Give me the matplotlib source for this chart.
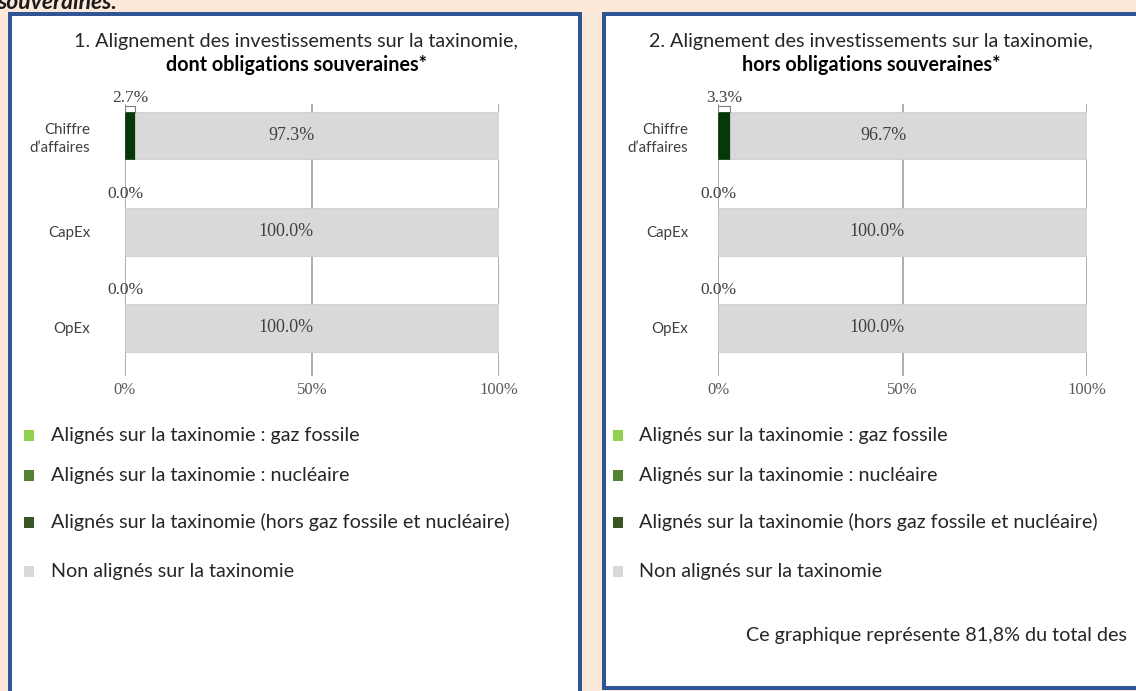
import matplotlib
matplotlib.use("Agg")
import matplotlib.pyplot as plt
from matplotlib.patches import Rectangle

# taxonomy alignment, in % of investments
categories = ["Chiffre\nd\u2019affaires", "CapEx", "OpEx"]
gaz_fossile_1 = [0.0, 0.0, 0.0]
nucleaire_1 = [0.0, 0.0, 0.0]
aligne_1 = [2.7, 0.0, 0.0]
non_aligne_1 = [97.3, 100.0, 100.0]

gaz_fossile_2 = [0.0, 0.0, 0.0]
nucleaire_2 = [0.0, 0.0, 0.0]
aligne_2 = [3.3, 0.0, 0.0]
non_aligne_2 = [96.7, 100.0, 100.0]

xticks = [0, 50, 100]
xtick_labels = ["0%", "50%", "100%"]

legend_labels = [
    "Alignés sur la taxinomie : gaz fossile",
    "Alignés sur la taxinomie : nucléaire",
    "Alignés sur la taxinomie (hors gaz fossile et nucléaire)",
    "Non alignés sur la taxinomie",
]
legend_colors = ["#92D050", "#548235", "#375623", "#D9D9D9"]

W, H = 1136, 691
BG = "#FDE9D9"
BORDER = "#2F5597"
TXT = "#262626"
SANS = "Lato"
SERIF = "Liberation Serif"

fig = plt.figure(figsize=(W / 100, H / 100), dpi=100, facecolor=BG)


def fx(x):
    return x / W


def fy(y):
    return 1 - y / H


def panel(x0, y0, x1, y1):
    fig.patches.append(Rectangle((fx(x0), fy(y1)), fx(x1 - x0), (y1 - y0) / H,
                                 transform=fig.transFigure, facecolor="white",
                                 edgecolor=BORDER, linewidth=2.9, zorder=-5))


panel(10, 14, 580, 720)
panel(604, 14, 1145, 688)

# cut-off heading above the panels
fig.text(fx(-3), fy(9), "souveraines.", fontsize=16.5, fontweight="bold",
         fontstyle="italic", family=SANS, color="#1a1a1a", va="baseline")


def chart(x0, x1, gaz, nuc, ali, non, ylab_pad):
    top, bottom = 104, 376
    ax = fig.add_axes([fx(x0), fy(bottom), fx(x1 - x0), (bottom - top) / H])
    ax.set_zorder(2)
    ax.set_facecolor("none")
    ax.set_xlim(0, 100)
    ax.set_ylim(2.5, -0.333)
    ypos = list(range(len(categories)))
    h = 0.49
    left = [0.0] * len(categories)
    for vals, col in [(ali, "#073807"), (gaz, "#92D050"), (nuc, "#548235"),
                      (non, "#D9D9D9")]:
        ax.barh(ypos, vals, left=left, height=h, color=col,
                edgecolor="#cfcfcf" if col == "#D9D9D9" else "#1f3f1f",
                linewidth=0.6, zorder=2)
        left = [l + v for l, v in zip(left, vals)]

    for i in ypos:
        # small aligned share: label above the bar with a bracket
        xa = ali[i] / 2
        ax.text(xa if ali[i] > 0 else 0, i - h / 2 - 0.15, f"{ali[i]:.1f}%",
                ha="center", va="center", family=SERIF, fontsize=12.5,
                color="#404040", zorder=4)
        if ali[i] > 0:
            yb = i - h / 2 - 0.07
            ax.plot([0, 0, ali[i], ali[i]], [i - h / 2, yb, yb, i - h / 2],
                    color="#7f7f7f", lw=0.8, zorder=3)
        ax.text(ali[i] + non[i] * 0.43, i, f"{non[i]:.1f}%", ha="center",
                va="center", family=SERIF, fontsize=13, color="#404040",
                zorder=4)

    ax.set_xticks(xticks)
    ax.set_xticklabels(xtick_labels, family=SERIF, fontsize=12, color="#595959")
    ax.set_yticks(ypos)
    ax.set_yticklabels(categories, family=SANS, fontsize=10.8, color="#404040",
                       linespacing=1.35)
    ax.tick_params(axis="x", length=0, pad=4)
    ax.tick_params(axis="y", length=0, pad=ylab_pad)
    ax.grid(axis="x", color="#a0a0a0", linewidth=1.2, zorder=1)
    ax.set_axisbelow(True)
    for s in ax.spines.values():
        s.set_visible(False)
    return ax


chart(125, 499, gaz_fossile_1, nucleaire_1, aligne_1, non_aligne_1, 25)
chart(718, 1087, gaz_fossile_2, nucleaire_2, aligne_2, non_aligne_2, 21.5)

# titles
fig.text(fx(296), fy(41), "1. Alignement des investissements sur la taxinomie,",
         ha="center", va="center", family=SANS, fontsize=14.2, color=TXT)
fig.text(fx(296), fy(65), "dont obligations souveraines*", ha="center",
         va="center", family=SANS, fontsize=14.2, fontweight="bold", color="black")
fig.text(fx(871), fy(41), "2. Alignement des investissements sur la taxinomie,",
         ha="center", va="center", family=SANS, fontsize=14.2, color=TXT)
fig.text(fx(871), fy(65), "hors obligations souveraines*", ha="center",
         va="center", family=SANS, fontsize=14.2, fontweight="bold", color="black")

# legends
rows = [435, 475, 522, 571]
for sq_x, tx_x in [(24, 51), (613, 639)]:
    for y, lab, col in zip(rows, legend_labels, legend_colors):
        fig.patches.append(Rectangle((fx(sq_x), fy(y + 5.5)), fx(10), 11 / H,
                                     transform=fig.transFigure, facecolor=col,
                                     edgecolor="none", zorder=3))
        fig.text(fx(tx_x), fy(y), lab, ha="left", va="center", family=SANS,
                 fontsize=14.2, color=TXT)

fig.text(fx(746), fy(635), "Ce graphique représente 81,8% du total des",
         ha="left", va="center", family=SANS, fontsize=14.2, color=TXT)

fig.savefig("out.png", dpi=100, facecolor=BG)
